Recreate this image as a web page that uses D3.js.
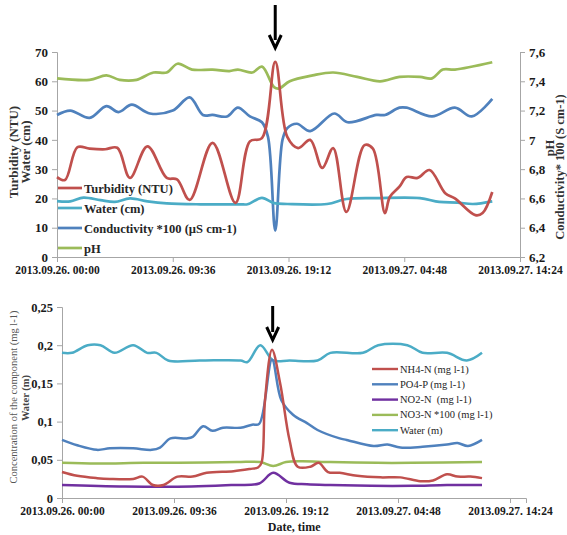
<!DOCTYPE html>
<html><head><meta charset="utf-8">
<script src="https://cdn.jsdelivr.net/npm/d3@7"></script>
<style>body{margin:0;background:#fff}svg{display:block}text{font-family:"Liberation Serif","Times New Roman",serif;white-space:pre}</style>
</head><body>
<script>
// ---------- data (hours since 2013.09.26 00:00) ----------
const xTickHours = [0, 9.6, 19.2, 28.8, 38.4];
const xTickLabels = ["2013.09.26. 00:00","2013.09.26. 09:36","2013.09.26. 19:12","2013.09.27. 04:48","2013.09.27. 14:24"];
const topLeftTicks = [0,10,20,30,40,50,60,70];
const topRightTicks = [6.2,6.4,6.6,6.8,7.0,7.2,7.4,7.6];
const botTicks = [0,0.05,0.1,0.15,0.2,0.25];

const turbidity = [[0,27.3],[0.66,26.3],[1.7,37.5],[2.7,37],[4.0,36.8],[5.0,37.3],[6.05,27],[7.5,37.8],[9.1,27],[9.95,26.5],[11.0,19.5],[12.9,39],[14.8,18.5],[16.0,39.5],[17.0,40.6],[18.1,66.6],[19.1,41],[20.0,37.2],[21.0,40],[22.0,30.4],[22.9,37.2],[24.0,15.4],[25.5,38.2],[26.2,37],[27.2,15],[27.6,20.5],[28.4,24],[29.0,27.3],[29.9,27],[30.9,29.7],[32.2,21.8],[33.0,20],[34.7,14.3],[35.3,15],[36.1,22.2]];
const waterCm = [[0,19.1],[1.1,19],[2.2,20.3],[3.6,19.4],[4.8,18.8],[6.05,20],[7.5,19],[9.1,18.3],[11.9,18],[15.2,18],[15.8,18],[17.0,20.2],[18.0,18.4],[19.1,18.1],[22.4,18.1],[24.0,19.8],[26.5,20.1],[30.1,20.1],[31.7,18.8],[33.2,18.6],[34.5,18.1],[36.1,19]];
const conductivity = [[0,7.17],[1.1,7.20],[2.7,7.15],[4.1,7.23],[5.1,7.19],[6.2,7.24],[7.7,7.18],[9.6,7.20],[11.0,7.29],[12.1,7.17],[12.9,7.17],[14.1,7.16],[15.0,7.22],[16.0,7.16],[17.0,7.12],[17.5,7.02],[18.1,6.38],[18.7,7.0],[19.1,7.08],[19.9,7.11],[21.0,7.06],[23.0,7.18],[24.1,7.12],[26.5,7.17],[27.2,7.17],[28.4,7.22],[29.0,7.22],[31.1,7.16],[33.0,7.22],[34.4,7.16],[36.1,7.28]];
const pH = [[0,7.42],[2.7,7.41],[4.1,7.44],[5.2,7.41],[6.6,7.41],[8.0,7.46],[9.1,7.46],[10.0,7.52],[11.2,7.48],[12.9,7.48],[14.3,7.47],[15.0,7.48],[16.2,7.46],[17.0,7.50],[18.0,7.36],[18.4,7.35],[19.3,7.40],[21.2,7.44],[22.9,7.46],[24.9,7.43],[26.8,7.40],[28.4,7.43],[30.1,7.43],[31.1,7.42],[32.0,7.48],[33.0,7.48],[36.1,7.53]];

const nh4 = [[0,0.034],[1.3,0.029],[3.0,0.026],[4.1,0.025],[6.1,0.025],[6.9,0.028],[7.8,0.017],[8.7,0.017],[9.9,0.028],[11.2,0.028],[12.4,0.033],[14.7,0.035],[16.1,0.038],[16.8,0.04],[17.1,0.046],[17.4,0.128],[18.0,0.194],[18.7,0.15],[19.5,0.076],[20.2,0.041],[21.3,0.041],[22.0,0.046],[22.8,0.034],[23.8,0.033],[25.3,0.029],[27.3,0.027],[29.0,0.027],[30.7,0.022],[31.8,0.023],[33.0,0.031],[33.9,0.028],[35.0,0.028],[36.0,0.026]];
const po4 = [[0,0.076],[1.3,0.069],[3.0,0.063],[4.1,0.065],[6.1,0.065],[7.7,0.063],[8.4,0.066],[9.3,0.078],[10.7,0.078],[11.2,0.08],[12.1,0.094],[12.9,0.088],[13.8,0.092],[15.3,0.092],[16.3,0.096],[16.9,0.097],[18.0,0.181],[18.8,0.128],[19.8,0.109],[21.0,0.098],[21.9,0.089],[23.8,0.078],[24.4,0.076],[26.7,0.068],[27.9,0.07],[29.0,0.066],[30.9,0.067],[33.0,0.07],[33.9,0.072],[34.8,0.068],[36.0,0.076]];
const no2 = [[0,0.017],[5.4,0.015],[11.1,0.015],[14.5,0.017],[16.9,0.019],[18.1,0.033],[19.5,0.02],[21,0.018],[23,0.017],[26.5,0.016],[30,0.016],[33,0.017],[36,0.017]];
const no3 = [[0,0.046],[3,0.045],[7,0.046],[10,0.046],[15,0.047],[17,0.047],[18.1,0.042],[19.2,0.047],[20.5,0.048],[23,0.047],[27,0.046],[30,0.046],[36,0.047]];
const waterM = [[0,0.19],[0.86,0.19],[2.2,0.2],[3.3,0.2],[4.5,0.19],[6.1,0.2],[7.3,0.19],[8.1,0.19],[9.1,0.18],[11.8,0.18],[15.3,0.18],[15.9,0.178],[17.0,0.2],[18.1,0.18],[19.5,0.18],[21.9,0.18],[23.0,0.19],[25.8,0.19],[27.1,0.2],[29.6,0.2],[30.9,0.19],[33.0,0.19],[34.7,0.18],[36.0,0.19]];

const topLegend = ["Turbidity (NTU)","Water (cm)","Conductivity *100 (µS cm-1)","pH"];
const botLegend = ["NH4-N (mg l-1)","PO4-P (mg l-1)","NO2-N  (mg l-1)","NO3-N *100 (mg l-1)","Water (m)"];
const eventHour = 18.1;

// ---------- drawing ----------
const C = {red:"#c0504d", cyan:"#4bacc6", blue:"#4f81bd", green:"#9bbb59", purple:"#7030a0"};
const svg = d3.select("body").append("svg").attr("width",567).attr("height",535);
const fmt = d => String(d).replace(".", ",");
const curve = d3.curveCatmullRom.alpha(0.5);

function styleAxis(g, size){
  g.selectAll("path,line").attr("stroke","#a6a6a6").attr("stroke-width",1);
  g.selectAll("text").attr("font-size",size).attr("font-weight","bold").attr("fill","#1a1a1a")
    .attr("font-family","'Liberation Serif',serif");
}

// TOP chart
const xT = d3.scaleLinear().domain([0,38.4]).range([57,520]);
const yL = d3.scaleLinear().domain([0,70]).range([257,52]);
const yR = d3.scaleLinear().domain([6.2,7.6]).range([257,52]);

svg.append("g").attr("transform","translate(0,257)")
  .call(d3.axisBottom(xT).tickValues(xTickHours).tickFormat((d,i)=>xTickLabels[i]).tickSizeOuter(0).tickSize(5).tickPadding(4))
  .call(g=>styleAxis(g,11.5));
svg.append("g").attr("transform","translate(57,0)")
  .call(d3.axisLeft(yL).tickValues(topLeftTicks).tickFormat(fmt).tickSizeOuter(0).tickSize(5).tickPadding(4))
  .call(g=>styleAxis(g,13));
svg.append("g").attr("transform","translate(520,0)")
  .call(d3.axisRight(yR).tickValues(topRightTicks).tickFormat(d=>fmt(+d.toFixed(1))).tickSizeOuter(0).tickSize(5).tickPadding(4))
  .call(g=>styleAxis(g,13));

const lineL = d3.line().x(d=>xT(d[0])).y(d=>yL(d[1])).curve(curve);
const lineR = d3.line().x(d=>xT(d[0])).y(d=>yR(d[1])).curve(curve);
const topSeries = [[pH,lineR,C.green],[conductivity,lineR,C.blue],[waterCm,lineL,C.cyan],[turbidity,lineL,C.red]];
topSeries.forEach(([d,l,c])=>svg.append("path").datum(d).attr("d",l).attr("fill","none").attr("stroke",c).attr("stroke-width",2.7).attr("stroke-linejoin","round"));

// top legend
const tLegCol = [C.red,C.cyan,C.blue,C.green];
topLegend.forEach((t,i)=>{
  const y = 188 + i*20;
  svg.append("line").attr("x1",58).attr("x2",82).attr("y1",y).attr("y2",y).attr("stroke",tLegCol[i]).attr("stroke-width",2.7);
  svg.append("text").attr("x",84).attr("y",y+4.5).attr("font-size",12.5).attr("font-weight","bold").attr("fill","#262626").text(t);
});

// top axis titles
svg.append("text").attr("transform","translate(18,152) rotate(-90)").attr("text-anchor","middle").attr("font-size",13).attr("font-weight","bold").attr("fill","#333").text("Turbidity (NTU)");
svg.append("text").attr("transform","translate(30,152) rotate(-90)").attr("text-anchor","middle").attr("font-size",13).attr("font-weight","bold").attr("fill","#333").text("Water (cm)");
svg.append("text").attr("transform","translate(554,148) rotate(-90)").attr("text-anchor","middle").attr("font-size",12.5).attr("font-weight","bold").attr("fill","#333").text("pH");
svg.append("text").attr("transform","translate(564,167) rotate(-90)").attr("text-anchor","middle").attr("font-size",12.5).attr("font-weight","bold").attr("fill","#333").text("Conductivity* 100 (S cm-1)");

// BOTTOM chart
const xB = d3.scaleLinear().domain([0,39.77]).range([62,526]);
const yB = d3.scaleLinear().domain([0,0.25]).range([498,307]);
svg.append("g").attr("transform","translate(0,498)")
  .call(d3.axisBottom(xB).tickValues(xTickHours).tickFormat((d,i)=>xTickLabels[i]).tickSizeOuter(0).tickSize(5).tickPadding(4))
  .call(g=>styleAxis(g,11.5));
svg.append("g").attr("transform","translate(62,0)")
  .call(d3.axisLeft(yB).tickValues(botTicks).tickFormat(d=>d===0?"0":fmt(+d.toFixed(2))).tickSizeOuter(0).tickSize(5).tickPadding(4))
  .call(g=>styleAxis(g,12.5));

const lineB = d3.line().x(d=>xB(d[0])).y(d=>yB(d[1])).curve(curve);
[[waterM,C.cyan],[no3,C.green],[po4,C.blue],[no2,C.purple],[nh4,C.red]].forEach(([d,c])=>
  svg.append("path").datum(d).attr("d",lineB).attr("fill","none").attr("stroke",c).attr("stroke-width",2.5).attr("stroke-linejoin","round"));

const bLegCol = [C.red,C.blue,C.purple,C.green,C.cyan];
botLegend.forEach((t,i)=>{
  const y = 369 + i*15.3;
  svg.append("line").attr("x1",372).attr("x2",398).attr("y1",y).attr("y2",y).attr("stroke",bLegCol[i]).attr("stroke-width",2.4);
  svg.append("text").attr("x",400).attr("y",y+3.5).attr("font-size",10.5).attr("fill","#262626").text(t);
});

svg.append("text").attr("transform","translate(17,397) rotate(-90)").attr("text-anchor","middle").attr("font-size",10.5).attr("fill","#555").text("Concentration of the component (mg l-1)");
svg.append("text").attr("transform","translate(29,398) rotate(-90)").attr("text-anchor","middle").attr("font-size",10.5).attr("font-weight","bold").attr("fill","#444").text("Water (m)");
svg.append("text").attr("x",xB(19.9)).attr("y",531).attr("text-anchor","middle").attr("font-size",12).attr("font-weight","bold").attr("fill","#1a1a1a").text("Date, time");

// arrows marking the event
function arrow(x, y1, y2){
  svg.append("line").attr("x1",x).attr("x2",x).attr("y1",y1).attr("y2",y2-8).attr("stroke","#000").attr("stroke-width",3);
  svg.append("path").attr("d",`M${x-6},${y2-13} L${x},${y2} L${x+6},${y2-13}`).attr("fill","none").attr("stroke","#000").attr("stroke-width",3).attr("stroke-linejoin","miter");
}
arrow(xT(eventHour), 5, 48);
arrow(xB(eventHour)-0.5, 306, 340);
</script>
</body></html>
